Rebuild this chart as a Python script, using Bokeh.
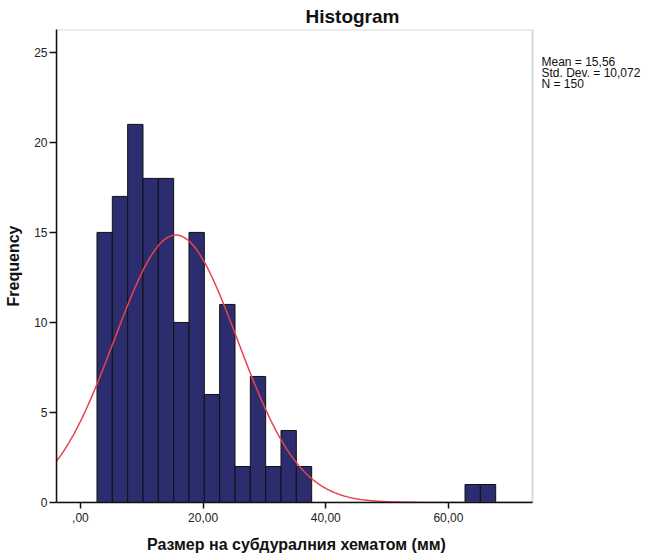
import numpy as np
from bokeh.plotting import figure
from bokeh.models import Range1d, FixedTicker, ColumnDataSource, Label, BoxAnnotation
from bokeh.embed import file_html
from bokeh.resources import INLINE

# ---- data ----
bin_left = [2.7, 5.2, 7.7, 10.2, 12.7, 15.2, 17.7, 20.2, 22.7, 25.2, 27.7, 30.2, 32.7, 35.2, 62.7, 65.2]
counts = [15, 17, 21, 18, 18, 10, 15, 6, 11, 2, 7, 2, 4, 2, 1, 1]
bin_width = 2.5
mean_val = 15.56
std_val = 10.072
n_val = 150
x_ticks = [0, 20, 40, 60]
x_tick_labels = [",00", "20,00", "40,00", "60,00"]
y_ticks = [0, 5, 10, 15, 20, 25]
stats_lines = ["Mean = 15,56", "Std. Dev. = 10,072", "N = 150"]
title_text = "Histogram"
x_label = "Размер на субдуралния хематом (мм)"
y_label = "Frequency"

FONT = "Liberation Sans"
W, H = 647, 556
FL, FT, FB = 56, 29, 502          # frame edges in figure pixels
X0, X1 = -3.9, 73.7               # visible data box on the x axis
Y0, Y1 = 0, 26.27
PX_PER_X = (532 - FL) / (X1 - X0)
X_EXT = X0 + (W - FL) / PX_PER_X  # frame extends to the right edge for the stats text

p = figure(width=W, height=H, output_backend="svg", toolbar_location=None,
           x_range=Range1d(X0, X_EXT), y_range=Range1d(Y0, Y1),
           min_border_left=FL, min_border_right=0,
           min_border_top=FT, min_border_bottom=H - FB,
           title=title_text)
p.background_fill_color = "white"
p.border_fill_color = "white"
p.outline_line_color = None
p.xgrid.visible = False
p.ygrid.visible = False

p.title.text_font = FONT
p.title.text_font_size = "19px"
p.title.text_font_style = "bold"
p.title.text_color = "#111111"
p.title.align = "left"
p.title.offset = 249
p.title.standoff = 5

# plot box border (grey, as in the reference)
p.add_layout(BoxAnnotation(left=X0, right=X1, bottom=Y0, top=Y1, fill_color=None,
                           line_color="#7f7f7f", line_width=2, level="underlay"))

src = ColumnDataSource(dict(
    left=bin_left,
    right=[b + bin_width for b in bin_left],
    top=counts,
    bottom=[0] * len(counts),
))
p.quad(left="left", right="right", top="top", bottom="bottom", source=src,
       fill_color="#2b2d6e", line_color="#111111", line_width=1)

xs = np.linspace(X0, X1, 400)
ys = n_val * bin_width * np.exp(-0.5 * ((xs - mean_val) / std_val) ** 2) / (std_val * np.sqrt(2 * np.pi))
p.line(xs, ys, line_color="#e8434c", line_width=1.5)

for ax in (p.xaxis[0], p.yaxis[0]):
    ax.axis_line_color = "#111111"
    ax.axis_line_width = 1.5
    ax.major_tick_line_color = "#111111"
    ax.major_tick_line_width = 1.5
    ax.major_tick_in = 0
    ax.minor_tick_line_color = None
    ax.major_label_text_font = FONT
    ax.major_label_text_font_size = "12px"
    ax.major_label_text_color = "#222222"
    ax.axis_label_text_font = FONT
    ax.axis_label_text_font_size = "16px"
    ax.axis_label_text_font_style = "bold"
    ax.axis_label_text_color = "#111111"

p.xaxis.bounds = (X0, X1)
p.xaxis.ticker = FixedTicker(ticks=x_ticks)
p.xaxis.major_label_overrides = {t: l for t, l in zip(x_ticks, x_tick_labels)}
p.xaxis.major_tick_out = 6
p.xaxis.major_label_standoff = 4
# the axis title is centred on the whole frame; trailing no-break spaces move it
# back over the centre of the plot box
p.xaxis.axis_label = x_label + "\u00a0" * 25
p.xaxis.axis_label_standoff = 11

p.yaxis.ticker = FixedTicker(ticks=y_ticks)
p.yaxis.major_label_overrides = {t: str(t) for t in y_ticks}
p.yaxis.major_tick_out = 7
p.yaxis.major_label_standoff = 2
p.yaxis.axis_label = y_label
p.yaxis.axis_label_standoff = 9

# statistics text to the right of the plot box
for i, line in enumerate(stats_lines):
    p.add_layout(Label(x=485, y=441 - 11 * i, x_units="screen", y_units="screen", text=line,
                       text_font=FONT, text_font_size="12px", text_color="#111111",
                       text_align="left", text_baseline="alphabetic"))

open("out.html", "w").write(file_html(p, INLINE))
